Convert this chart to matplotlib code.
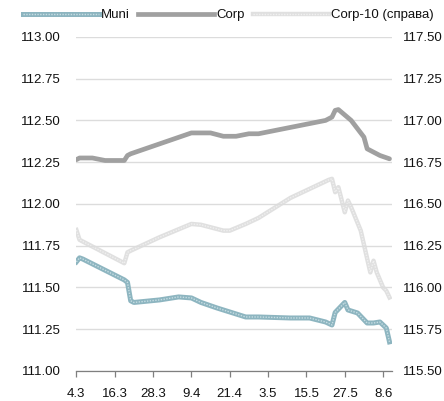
import matplotlib
matplotlib.use("Agg")
import matplotlib.pyplot as plt
from matplotlib.lines import Line2D
from matplotlib.legend_handler import HandlerTuple

plt.rcParams['font.family'] = ['Liberation Sans', 'DejaVu Sans']
plt.rcParams['font.size'] = 9.5

# days counted from 4.3 (one category per calendar day)
tick_days = [0, 12, 24, 36, 48, 60, 72, 84, 96]
tick_labels = ['4.3', '16.3', '28.3', '9.4', '21.4', '3.5', '15.5', '27.5', '8.6']

muni_days = [0, 1, 2, 15, 16, 17, 18, 26, 32, 36, 39, 44, 53, 57, 67, 73, 78, 80,
             81, 84, 85, 88, 91, 93, 95, 97, 98]
muni_vals = [111.653, 111.677, 111.67, 111.545, 111.53, 111.42, 111.41, 111.425,
             111.443, 111.437, 111.41, 111.377, 111.323, 111.323, 111.317, 111.317,
             111.293, 111.275, 111.35, 111.41, 111.365, 111.347, 111.287, 111.287,
             111.293, 111.257, 111.174]

corp_days = [0, 1, 5, 9, 15, 16, 17, 36, 42, 46, 50, 54, 57, 78, 80, 81, 82, 86,
             90, 91, 95, 98]
corp_vals = [112.265, 112.275, 112.275, 112.26, 112.26, 112.29, 112.30, 112.425,
             112.425, 112.405, 112.405, 112.42, 112.42, 112.50, 112.52, 112.56,
             112.565, 112.50, 112.40, 112.33, 112.29, 112.27]

corp10_days = [0, 1, 15, 16, 17, 26, 36, 39, 46, 48, 53, 57, 67, 79, 80, 81, 82,
               84, 85, 86, 89, 92, 93, 94, 96, 97, 98]
corp10_vals = [116.344, 116.285, 116.145, 116.21, 116.22, 116.30, 116.38, 116.375,
               116.34, 116.34, 116.38, 116.416, 116.536, 116.644, 116.65, 116.57,
               116.60, 116.45, 116.52, 116.48, 116.34, 116.09, 116.16, 116.09,
               116.00, 115.98, 115.94]

fig = plt.figure(figsize=(4.44, 4.01), dpi=100)
ax = fig.add_axes([0.172, 0.075, 0.711, 0.833])
ax2 = ax.twinx()

muni_c = '#8db5c0'
muni_dot = '#c6dde3'
corp_c = '#a0a0a0'
c10_c = '#e0e0e0'
c10_dot = '#f0f0f0'

ax2.plot(corp10_days, corp10_vals, color=c10_c, lw=3.2, solid_joinstyle='round')
ax2.plot(corp10_days, corp10_vals, color=c10_dot, lw=1.0, ls=(0, (1, 1)))
ax.plot(corp_days, corp_vals, color=corp_c, lw=3.4, solid_joinstyle='round',
        solid_capstyle='round', zorder=3)
ax.plot(muni_days, muni_vals, color=muni_c, lw=3.6, solid_joinstyle='round', zorder=4)
ax.plot(muni_days, muni_vals, color=muni_dot, lw=1.0, ls=(0, (1, 1)), zorder=5)

ax.set_zorder(ax2.get_zorder() + 1)
ax.patch.set_visible(False)

ax.set_xlim(0, 98.8)
ax.set_ylim(111.0, 113.0)
ax2.set_ylim(115.5, 117.5)
ax.set_yticks([111 + 0.25 * i for i in range(9)])
ax2.set_yticks([115.5 + 0.25 * i for i in range(9)])
ax.set_yticklabels(['%.2f' % (111 + 0.25 * i) for i in range(9)])
ax2.set_yticklabels(['%.2f' % (115.5 + 0.25 * i) for i in range(9)])
ax.set_xticks(tick_days)
ax.set_xticklabels(tick_labels)

for a in (ax, ax2):
    for s in ['top', 'left', 'right', 'bottom']:
        a.spines[s].set_visible(False)
ax.spines['bottom'].set_visible(True)
ax.spines['bottom'].set_color('#7f7f7f')
ax.spines['bottom'].set_linewidth(0.9)

ax.tick_params(axis='y', length=0, pad=11, labelcolor='#111111')
ax2.tick_params(axis='y', length=0, pad=8, labelcolor='#111111')
ax.tick_params(axis='x', length=4, width=0.9, color='#7f7f7f', pad=8,
               labelcolor='#111111')

ax.yaxis.grid(True, color='#dcdcdc', lw=1.0)
ax.set_axisbelow(True)

h_muni = (Line2D([], [], color=muni_c, lw=3.6), Line2D([], [], color=muni_dot, lw=1.0, ls=(0, (1, 1))))
h_corp = Line2D([], [], color=corp_c, lw=3.4)
h_c10 = (Line2D([], [], color=c10_c, lw=3.2), Line2D([], [], color=c10_dot, lw=1.0, ls=(0, (1, 1))))
fig.legend([h_muni, h_corp, h_c10], ['Muni', 'Corp', 'Corp-10 (справа)'],
           handler_map={tuple: HandlerTuple(ndivide=1, pad=0)},
           loc='upper left', bbox_to_anchor=(0.03, 1.0), ncol=3, frameon=False,
           handlelength=5.8, handletextpad=0.15, columnspacing=0.6,
           borderaxespad=0.3, labelcolor='#111111')

fig.savefig('out.png', dpi=100)
